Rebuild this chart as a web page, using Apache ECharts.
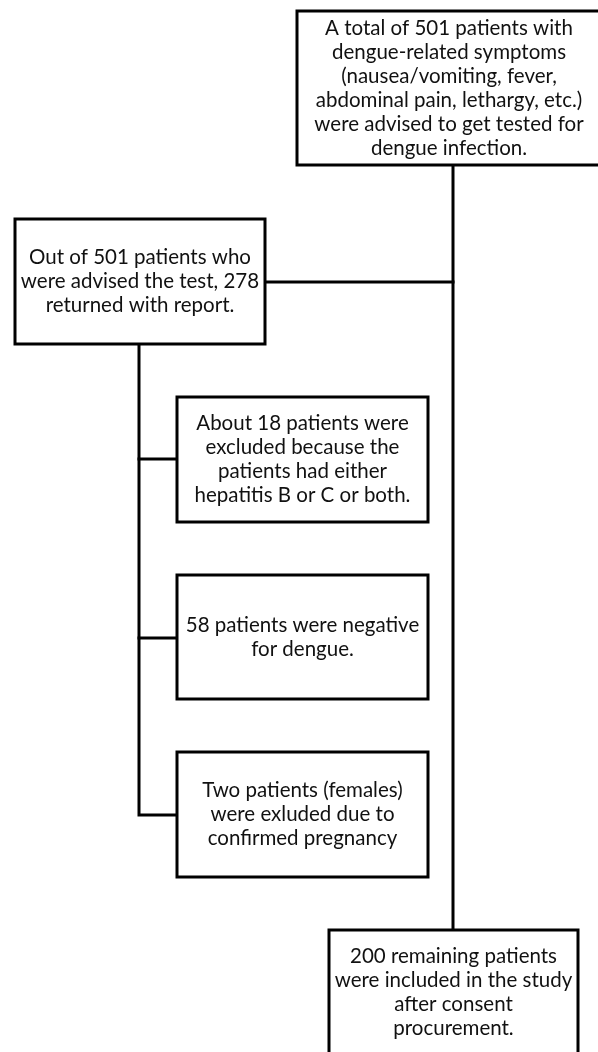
<!DOCTYPE html>
<html>
<head>
  <meta charset="utf-8">
  <style>
    html, body { margin: 0; padding: 0; background: #fff; }
    #main { width: 598px; height: 1052px; }
  </style>
</head>
<body>
  <div id="main"></div>
  <script src="https://cdn.jsdelivr.net/npm/echarts@6/dist/echarts.min.js"></script>
  <script>
    // box texts (line breaks as in the figure)
    const boxText = [
      'A total of 501 patients with\ndengue-related symptoms\n(nausea/vomiting, fever,\nabdominal pain, lethargy, etc.)\nwere advised to get tested for\ndengue infection.',
      'Out of 501 patients who\nwere advised the test, 278\nreturned with report.',
      'About 18 patients were\nexcluded because the\npatients had either\nhepatitis B or C or both.',
      '58 patients were negative\nfor dengue.',
      'Two patients (females)\nwere exluded due to\nconfirmed pregnancy',
      '200 remaining patients\nwere included in the study\nafter consent\nprocurement.'
    ];
    // box extents in diagram units
    const boxX0 = [297, 15, 177, 177, 177, 329];
    const boxY0 = [11, 219, 397, 575, 752, 930];
    const boxX1 = [601, 265, 428, 428, 428, 578];
    const boxY1 = [165, 344, 522, 699, 877, 1054];

    // connector polylines
    const links = [
      [[453, 165], [453, 930]],
      [[265, 282], [453, 282]],
      [[139, 344], [139, 815], [177, 815]],
      [[139, 459], [177, 459]],
      [[139, 638], [177, 638]]
    ];

    const chart = echarts.init(document.getElementById('main'));

    const boxData = boxText.map((t, i) => [boxX0[i], boxY0[i], boxX1[i], boxY1[i]]);

    chart.setOption({
      animation: false,
      grid: { left: 0, right: 0, top: 0, bottom: 0 },
      xAxis: { type: 'value', min: 0, max: 598, show: false },
      yAxis: { type: 'value', min: 0, max: 1052, inverse: true, show: false },
      series: [
        {
          type: 'lines',
          coordinateSystem: 'cartesian2d',
          polyline: true,
          z: 1,
          lineStyle: { color: '#000', width: 3, opacity: 1, cap: 'square', join: 'miter' },
          data: links.map(c => ({ coords: c }))
        },
        {
          type: 'custom',
          z: 2,
          clip: false,
          data: boxData,
          renderItem: function (params, api) {
            const p0 = api.coord([api.value(0), api.value(1)]);
            const p1 = api.coord([api.value(2), api.value(3)]);
            return {
              type: 'rect',
              shape: { x: p0[0], y: p0[1], width: p1[0] - p0[0], height: p1[1] - p0[1] },
              style: { fill: '#fff', stroke: '#000', lineWidth: 3 },
              textContent: {
                style: {
                  text: boxText[params.dataIndex],
                  fontFamily: 'Lato',
                  fontSize: 20.5,
                  lineHeight: 24,
                  fill: '#111',
                  align: 'center',
                  verticalAlign: 'middle'
                }
              },
              textConfig: { position: 'inside' }
            };
          }
        }
      ]
    });
  </script>
</body>
</html>
